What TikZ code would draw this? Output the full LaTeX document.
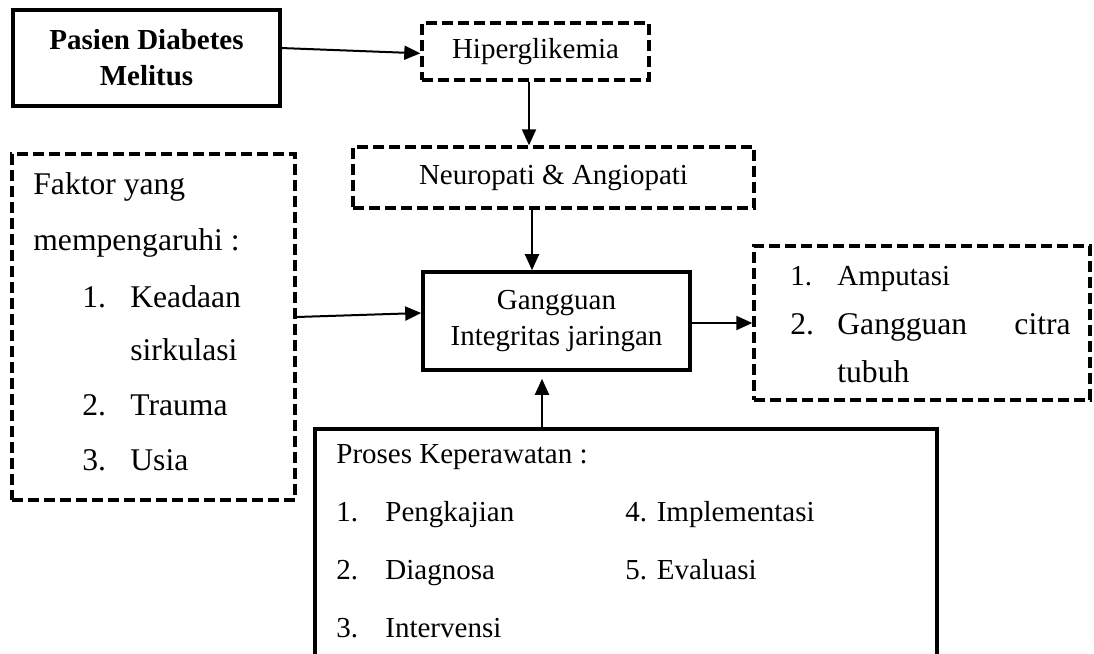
\documentclass[tikz,border=0pt]{standalone}
\usepackage{fontspec}
\setmainfont{Liberation Serif}
\usetikzlibrary{arrows.meta,calc}
\newcommand{\fa}{\fontsize{14.5pt}{18pt}\selectfont}
\newcommand{\fb}{\fontsize{15.8pt}{19pt}\selectfont}
\begin{document}
\begin{tikzpicture}[x=0.5pt,y=-0.5pt,
  sbox/.style={draw, line width=1.8pt, inner sep=0pt},
  dbox/.style={draw, line width=1.7pt, dash pattern=on 5.5pt off 2.5pt, inner sep=0pt},
  arr/.style={line width=1pt, -{Triangle[length=8pt,width=7pt]}},
  lt/.style={anchor=base west, inner sep=0pt, font=\fa},
  ltb/.style={anchor=base west, inner sep=0pt, font=\fb}]
\useasboundingbox (0,0) rectangle (1094,654);
% boxes
\node[sbox, minimum width=133.5pt, minimum height=48pt, align=center, font=\fa\bfseries] (pasien) at (146.5,58) {Pasien Diabetes\\Melitus};
\node[dbox, minimum width=113.5pt, minimum height=28.5pt, font=\fa] (hiper) at (535.5,51.5) {Hiperglikemia};
\node[dbox, minimum width=200.5pt, minimum height=30.5pt, font=\fa] (neuro) at (553.5,177.5) {Neuropati \& Angiopati};
\node[dbox, minimum width=141.5pt, minimum height=173pt] (faktor) at (153.5,327) {};
\node[sbox, minimum width=133.5pt, minimum height=49pt, align=center, font=\fa] (gang) at (556.5,321) {Gangguan\\Integritas jaringan};
\node[dbox, minimum width=168pt, minimum height=77pt] (amp) at (922,323) {};
\node[sbox, anchor=north west, minimum width=311pt, minimum height=125pt] (proses) at (313,427) {};
\coordinate (ptop) at (542,427);
% faktor text
\node[ltb] (f1) at (33,194) {Faktor yang};
\node[ltb] (f2) at (33,250) {mempengaruhi :};
\node[ltb] (f3n) at (82,307) {1.};
\node[ltb] (f3) at (130,307) {Keadaan};
\node[ltb] (f4) at (130,360) {sirkulasi};
\node[ltb] (f5n) at (82,415) {2.};
\node[ltb] (f5) at (130,415) {Trauma};
\node[ltb] (f6n) at (82,470) {3.};
\node[ltb] (f6) at (130,470) {Usia};
% amp text
\node[lt] (a1n) at (790,285) {1.};
\node[lt] (a1) at (837,285) {Amputasi};
\node[ltb] (a2n) at (790,334) {2.};
\node[ltb] (a2) at (837,334) {Gangguan};
\node[ltb, anchor=base east] (a2b) at (1071,334) {citra};
\node[ltb] (a3) at (837,382) {tubuh};
% proses text
\node[lt] (p0) at (336,463) {Proses Keperawatan :};
\node[lt] (p1n) at (336,521) {1.};
\node[lt] (p1) at (385,521) {Pengkajian};
\node[lt] (p4) at (625,521) {4. Implementasi};
\node[lt] (p2n) at (336,579) {2.};
\node[lt] (p2) at (385,579) {Diagnosa};
\node[lt] (p5) at (625,579) {5. Evaluasi};
\node[lt] (p3n) at (336,637) {3.};
\node[lt] (p3) at (385,637) {Intervensi};
% arrows
\draw[arr] ($(pasien.north east)!0.4!(pasien.south east)$) -- ($(hiper.north west)!0.53!(hiper.south west)$);
\draw[arr] ([xshift=-3.25pt]hiper.south) -- ([xshift=-3.25pt]hiper.south |- neuro.north);
\draw[arr] ([xshift=-10.75pt]neuro.south) -- ([xshift=-10.75pt]neuro.south |- gang.north);
\draw[arr] ([yshift=5pt]faktor.east) -- ([yshift=4pt]gang.west);
\draw[arr] ([yshift=-1pt]gang.east) -- ([yshift=-1pt]gang.east -| amp.west);
\draw[arr] (ptop) -- ([yshift=-3.5pt]ptop |- gang.south);
\end{tikzpicture}
\end{document}
